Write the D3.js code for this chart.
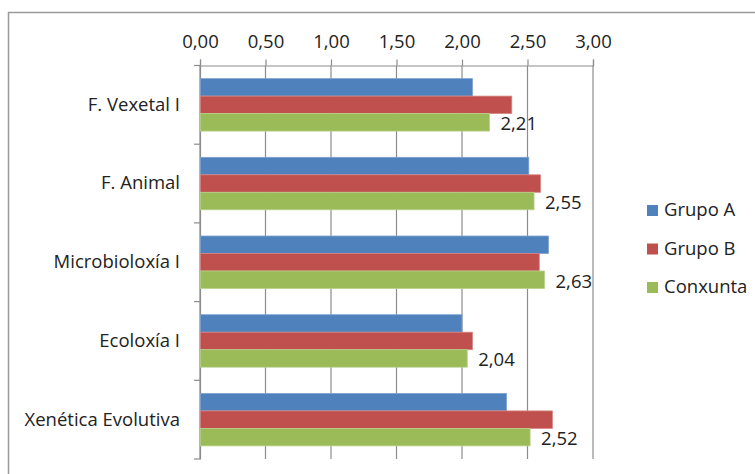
<!DOCTYPE html>
<html><head><meta charset="utf-8">
<script src="https://cdn.jsdelivr.net/npm/d3@7"></script>
<style>html,body{margin:0;padding:0;background:#fff;}svg{display:block;}</style>
</head><body>
<svg id="chart" width="755" height="474"></svg>
<script>
const categories = ["F. Vexetal I", "F. Animal", "Microbioloxía I", "Ecoloxía I", "Xenética Evolutiva"];
const seriesNames = ["Grupo A", "Grupo B", "Conxunta"];
const grupoA = [2.08, 2.51, 2.66, 2.00, 2.34];
const grupoB = [2.38, 2.60, 2.59, 2.08, 2.69];
const conxunta = [2.21, 2.55, 2.63, 2.04, 2.52];
const xTicks = [0, 0.5, 1, 1.5, 2, 2.5, 3];
const colors = ["#4F81BD", "#C0504D", "#9BBB59"];
const strokes = ["#7DA2D1", "#D88583", "#B8D28A"];
const seriesValues = [grupoA, grupoB, conxunta];

(function () {
const FONT = "'Open Sans', sans-serif";
const FS = 18.5;
const svg = d3.select("#chart");

// outer border
svg.append("rect").attr("x", 8.5).attr("y", 12.5).attr("width", 760).attr("height", 480)
  .attr("fill", "none").attr("stroke", "#9a9a9a").attr("stroke-width", 1.5);

const pLeft = 200, pRight = 593, pTop = 65.5, pBottom = 459;
const x = d3.scaleLinear().domain([0, 3]).range([pLeft, pRight]);
const y = d3.scaleBand().domain(categories).range([pTop, pBottom]).paddingInner(0).paddingOuter(0);
const inner = d3.scaleBand().domain(seriesNames).range([y.bandwidth() / 6, y.bandwidth() * 5 / 6]);

// gridlines
svg.append("g").selectAll("line").data(xTicks).join("line")
  .attr("x1", d => x(d)).attr("x2", d => x(d)).attr("y1", pTop).attr("y2", pBottom)
  .attr("stroke", "#8c8c8c").attr("stroke-width", 1.2);

// top axis
const xAxis = d3.axisTop(x).tickValues(xTicks).tickSize(6).tickPadding(12)
  .tickFormat(d => d3.format(".2f")(d).replace(".", ","));
const gx = svg.append("g").attr("transform", `translate(0,${pTop})`).call(xAxis);
gx.select(".domain").attr("stroke", "#8c8c8c").attr("stroke-width", 1.2);
gx.selectAll(".tick line").attr("stroke", "#8c8c8c").attr("stroke-width", 1.2);
gx.selectAll(".tick text").attr("font-family", FONT).attr("font-size", FS).attr("fill", "#222");

// left axis
const yAxis = d3.axisLeft(y).tickSize(0).tickPadding(20);
const gy = svg.append("g").attr("transform", `translate(${pLeft},0)`).call(yAxis);
gy.select(".domain").attr("stroke", "#8c8c8c").attr("stroke-width", 1.2);
gy.selectAll(".tick text").attr("font-family", FONT).attr("font-size", FS).attr("fill", "#222");
// category boundary ticks
const bounds = [pTop].concat(categories.map(c => y(c) + y.bandwidth()));
svg.append("g").selectAll("line").data(bounds).join("line")
  .attr("x1", pLeft - 6).attr("x2", pLeft).attr("y1", d => d).attr("y2", d => d)
  .attr("stroke", "#8c8c8c").attr("stroke-width", 1.2);

// bars
const rows = [];
categories.forEach((c, i) => seriesNames.forEach((s, j) => rows.push({c, s, j, v: seriesValues[j][i]})));
svg.append("g").selectAll("rect").data(rows).join("rect")
  .attr("x", x(0) + 0.5)
  .attr("y", d => y(d.c) + inner(d.s))
  .attr("width", d => x(d.v) - x(0) - 0.5)
  .attr("height", inner.bandwidth())
  .attr("fill", d => colors[d.j])
  .attr("stroke", d => strokes[d.j]).attr("stroke-width", 0.8);

// data labels for Conxunta
svg.append("g").selectAll("text").data(categories).join("text")
  .attr("x", (c, i) => x(conxunta[i]) + 11)
  .attr("y", c => y(c) + inner("Conxunta") + inner.bandwidth() / 2 + 8)
  .attr("font-family", FONT).attr("font-size", FS).attr("fill", "#222")
  .text((c, i) => d3.format(".2f")(conxunta[i]).replace(".", ","));

// legend
const lg = svg.append("g").attr("transform", "translate(647,205)");
seriesNames.forEach((s, j) => {
  const g = lg.append("g").attr("transform", `translate(0,${j * 38.5})`);
  g.append("rect").attr("width", 11).attr("height", 11).attr("fill", colors[j]);
  g.append("text").attr("x", 17).attr("y", 11).attr("font-family", FONT).attr("font-size", FS)
    .attr("fill", "#222").text(s);
});
})();
</script>
</body></html>
